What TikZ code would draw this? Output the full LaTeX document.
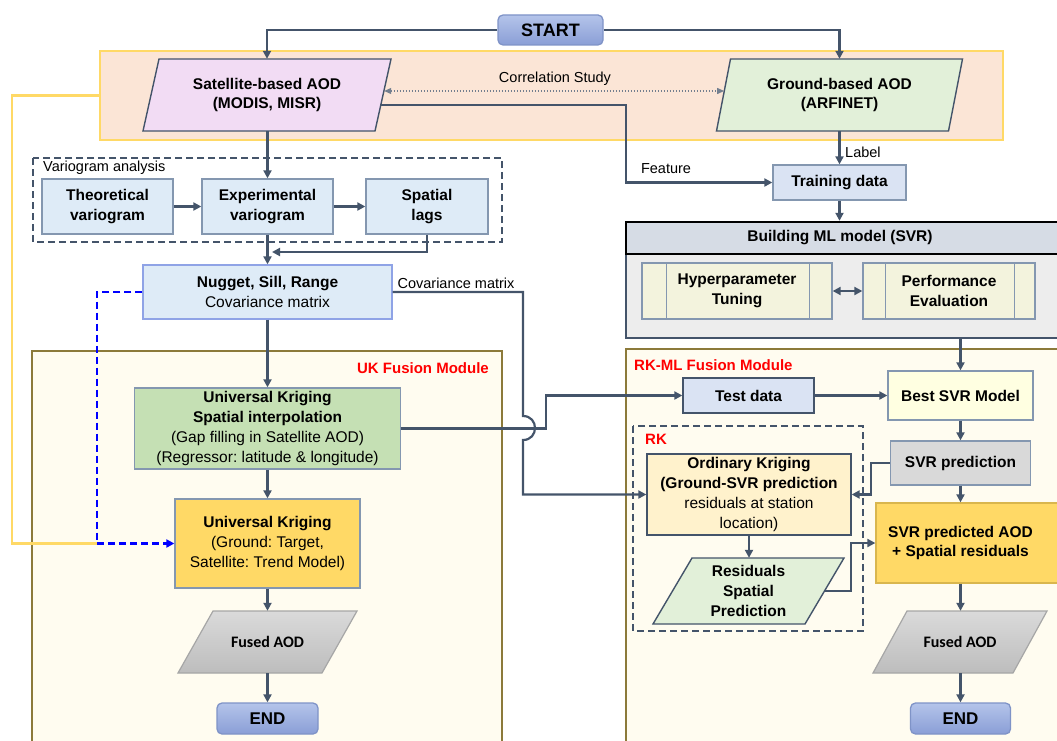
\documentclass[tikz,border=0pt]{standalone}
\usepackage{fontspec}
\setmainfont{Liberation Sans}
\newfontfamily\calibfont{Carlito}
\usetikzlibrary{arrows.meta,calc}
\definecolor{slate}{HTML}{44546A}
\definecolor{bandfill}{HTML}{FBE5D6}
\definecolor{bandline}{HTML}{FFD966}
\definecolor{satfill}{HTML}{F2DCF4}
\definecolor{gndfill}{HTML}{E2F0D9}
\definecolor{ltblue}{HTML}{DEEBF7}
\definecolor{ltbluetwo}{HTML}{DAE3F3}
\definecolor{boxline}{HTML}{8497B0}
\definecolor{nugline}{HTML}{8FA3E6}
\definecolor{ukgreen}{HTML}{C5E0B4}
\definecolor{ukgold}{HTML}{FFD966}
\definecolor{goldline}{HTML}{D9B64E}
\definecolor{modfill}{HTML}{FFFCF0}
\definecolor{modline}{HTML}{8C7A3A}
\definecolor{headfill}{HTML}{D6DCE5}
\definecolor{bodyfill}{HTML}{EDEDED}
\definecolor{procfill}{HTML}{F3F3DD}
\definecolor{bestfill}{HTML}{FFFFE1}
\definecolor{greyfill}{HTML}{D9D9D9}
\definecolor{okfill}{HTML}{FFF2CC}
\definecolor{termtop}{HTML}{B4C4EA}
\definecolor{termbot}{HTML}{8A9ED6}
\definecolor{termline}{HTML}{7F93C7}
\definecolor{fusedtop}{HTML}{DADADA}
\definecolor{fusedbot}{HTML}{BDBDBD}
\definecolor{fusedline}{HTML}{A6A6A6}
\definecolor{dashblue}{HTML}{0000FF}
\newcommand\myfs{\fontsize{15.5}{19.8}\selectfont}
\newcommand\mysm{\fontsize{14.5}{18}\selectfont}
% parallelogram: #1 style, #2 cx, #3 cy, #4 half mid-width, #5 half height, #6 half slant
\newcommand\paradraw[6]{\path[#1] ({#2-#4-#6},{#3+#5}) -- ({#2+#4-#6},{#3+#5}) -- ({#2+#4+#6},{#3-#5}) -- ({#2-#4+#6},{#3-#5}) -- cycle;}
\frenchspacing
\begin{document}
\begin{tikzpicture}[x=1pt,y=-1pt,
  txt/.style={font=\myfs, align=center, inner sep=0pt},
  box/.style={draw=#1, line width=1.3pt, align=center, inner sep=0pt, font=\myfs},
  paratext/.style={align=center, inner sep=0pt, font=\myfs\bfseries},
  parashape/.style={draw=slate, line width=1.4pt},
  fusedshape/.style={draw=fusedline, line width=1.2pt, top color=fusedtop, bottom color=fusedbot},
  term/.style={rounded corners=5pt, draw=termline, line width=1.3pt, top color=termtop, bottom color=termbot, inner sep=0pt, font=\fontsize{17}{20}\selectfont\bfseries},
  conn/.style={draw=slate, line width=2.2pt},
  arr/.style={conn, -{Triangle[length=8pt,width=8pt]}},
  dblarr/.style={conn, {Triangle[length=8pt,width=8pt]}-{Triangle[length=8pt,width=8pt]}},
  corr/.style={draw=slate!75, line width=1.1pt, dash pattern=on 1.5pt off 1.5pt, {Triangle[length=7pt,width=6pt]}-{Triangle[length=7pt,width=6pt]}},
  lab/.style={font=\mysm, inner sep=0pt},
  modbox/.style={draw=modline, fill=modfill, line width=1.5pt},
  grp/.style={draw=slate, line width=1.7pt, dash pattern=on 7pt off 4pt},
  redlab/.style={font=\fontsize{15}{18}\selectfont\bfseries, text=red, inner sep=0pt},
  procline/.style={draw=boxline, line width=1.3pt}
]
\useasboundingbox (0,0) rectangle (1057,741);

% background groups
\node[draw=bandline, fill=bandfill, line width=2.2pt, minimum width=903, minimum height=89, inner sep=0pt] (band) at (551.5,95.5) {};
\draw[modbox] (32,351) rectangle (502,770);
\draw[modbox] (626,349) rectangle (1080,770);
\draw[grp] (33,158) rectangle (502,242);
\draw[grp] (633,426) rectangle (863,631);
\node[draw=slate, fill=bodyfill, line width=2.2pt, minimum width=454, minimum height=84, inner sep=0pt] (bbody) at (853,296) {};
\node[draw=black, fill=headfill, line width=2.4pt, minimum width=454, minimum height=32, inner sep=0pt] (bhead) at (853,238) {};
\node[txt, font=\myfs\bfseries] (bheadt) at (840,238) {Building ML model (SVR)};

% group labels
\node[lab, anchor=west] (vlab) at (43,168) {Variogram analysis};
\node[redlab, anchor=east] (uklab) at (489,368) {UK Fusion Module};
\node[redlab, anchor=west] (rkmllab) at (634,365) {RK-ML Fusion Module};
\node[redlab, anchor=west] (rklab) at (645,439) {RK};

% top
\node[term, minimum width=105, minimum height=30, font=\fontsize{18}{20}\selectfont\bfseries] (start) at (550.5,30) {START};
\paradraw{parashape, fill=satfill}{267}{95}{116}{36}{8}
\node[paratext, minimum width=232, minimum height=72] (sat) at (267,95) {Satellite-based AOD\\(MODIS, MISR)};
\paradraw{parashape, fill=gndfill}{839.5}{95}{116}{36}{7}
\node[paratext, minimum width=232, minimum height=72] (gnd) at (839.5,95) {Ground-based AOD\\(ARFINET)};

% variogram
\node[box=boxline, fill=ltblue, minimum width=131, minimum height=55, font=\myfs\bfseries] (theo) at (107.5,206.5) {Theoretical\\variogram};
\node[box=boxline, fill=ltblue, minimum width=131, minimum height=55, font=\myfs\bfseries] (expv) at (267.5,206.5) {Experimental\\variogram};
\node[box=boxline, fill=ltblue, minimum width=122, minimum height=55, font=\myfs\bfseries] (lags) at (427,206.5) {Spatial\\lags};
\node[box=nugline, fill=ltblue, minimum width=249, minimum height=54] (nugget) at (267.5,292) {\textbf{Nugget, Sill, Range}\\Covariance matrix};

% UK module
\node[box=boxline, fill=ukgreen, minimum width=266, minimum height=81] (ukSI) at (267.5,428.5) {\textbf{Universal Kriging}\\\textbf{Spatial interpolation}\\(Gap filling in Satellite AOD)\\(Regressor: latitude \& longitude)};
\node[box=boxline, fill=ukgold, minimum width=185, minimum height=89] (uk2) at (267.5,543.5) {\textbf{Universal Kriging}\\(Ground: Target,\\Satellite: Trend Model)};
\paradraw{fusedshape}{267.5}{642}{72}{31}{17.5}
\node[paratext, minimum width=144, minimum height=62, font=\calibfont\fontsize{16}{19}\selectfont\bfseries] (fused1) at (267.5,642) {Fused AOD};
\node[term, minimum width=101, minimum height=31] (end1) at (267.5,718.5) {END};

% ML side
\node[box=boxline, fill=ltbluetwo, minimum width=133, minimum height=35, font=\myfs\bfseries] (train) at (839.5,182.5) {Training data};
\node[box=boxline, fill=procfill, minimum width=190, minimum height=56, font=\myfs\bfseries] (hyp) at (737,291) {Hyperparameter\\Tuning};
\node[box=boxline, fill=procfill, minimum width=172, minimum height=56, font=\myfs\bfseries] (perf) at (949,291) {Performance\\Evaluation};
\draw[procline] ($(hyp.north west)+(25,0)$) -- ($(hyp.south west)+(25,0)$);
\draw[procline] ($(hyp.north east)+(-23,0)$) -- ($(hyp.south east)+(-23,0)$);
\draw[procline] ($(perf.north west)+(23,0)$) -- ($(perf.south west)+(23,0)$);
\draw[procline] ($(perf.north east)+(-21,0)$) -- ($(perf.south east)+(-21,0)$);

% RK-ML module
\node[box=slate, fill=ltbluetwo, minimum width=131, minimum height=35, font=\myfs\bfseries] (test) at (748.5,395.5) {Test data};
\node[box=boxline, fill=bestfill, minimum width=145, minimum height=49, font=\myfs\bfseries] (best) at (960.5,395.5) {Best SVR Model};
\node[box=boxline, fill=greyfill, minimum width=140, minimum height=44, font=\myfs\bfseries] (svrp) at (960.5,463) {SVR prediction};
\node[box=goldline, fill=ukgold, minimum width=209, minimum height=80] (svrA) at (980.5,543) {};
\node[txt, font=\myfs\bfseries] (svrAt) at (960.5,543) {SVR predicted AOD\\+ Spatial residuals};
\node[box=slate, fill=okfill, minimum width=204, minimum height=81] (ok) at (749,494.5) {\textbf{Ordinary Kriging}\\\textbf{(Ground-SVR prediction}\\residuals at station\\location)};
\paradraw{parashape, fill=gndfill}{748.5}{591}{76}{33}{19.5}
\node[paratext, minimum width=152, minimum height=66] (resid) at (748.5,591) {Residuals\\Spatial\\Prediction};
\paradraw{fusedshape}{960}{642}{70}{31}{17}
\node[paratext, minimum width=140, minimum height=62, font=\calibfont\fontsize{16}{19}\selectfont\bfseries] (fused2) at (960,642) {Fused AOD};
\node[term, minimum width=100, minimum height=31] (end2) at (960.5,718.5) {END};

% helper coordinates
\coordinate (fk) at (626,182.5);
\coordinate (lj) at (272,252);
\coordinate (bj) at (97,543.5);
\coordinate (yc) at (12,543.5);
\coordinate (tj) at (546,395.5);
\coordinate (sj) at (871,494.5);
\coordinate (rj) at (851,543);
\coordinate (c1) at (523,292);
\coordinate (c2) at (523,416);
\coordinate (c3) at (523,440);
\coordinate (c4) at (523,494.5);

% connectors top
\draw[arr] (start.west) -| (sat.north);
\draw[arr] (start.east) -| (gnd.north);
\draw[corr] ($(sat.east)+(1,-4)$) -- ($(gnd.west)+(0.8,-4)$);
\node[lab] (corrl) at (555,79) {Correlation Study};
\draw[arr] ($(sat.east)+(-2.5,10)$) -| (fk) -- (train.west);
\node[lab] (featl) at (666,169) {Feature};
\draw[arr] (gnd.south) -- (train.north);
\node[lab, anchor=west] (labl) at (845,152) {Label};
\draw[arr] (train.south) -- (train.south |- bhead.north);
\draw[dblarr] (hyp.east) -- (perf.west);
\draw[arr] (best.north |- bbody.south) -- (best.north);

% left column
\draw[arr] (expv.north |- sat.south) -- (expv.north);
\draw[arr] (theo.east) -- (expv.west);
\draw[arr] (expv.east) -- (lags.west);
\draw[arr] (expv.south) -- (nugget.north);
\draw[arr] (lags.south) |- (lj);
\draw[arr] (nugget.south) -- (ukSI.north);
\draw[arr] (ukSI.south) -- (uk2.north);
\draw[arr] (uk2.south) -- (fused1.north);
\draw[arr] (fused1.south) -- (end1.north);

% yellow and blue feeds
\draw[draw=bandline, line width=2.8pt] (band.west) -| (yc) -- (bj);
\draw[draw=dashblue, line width=2.2pt, dash pattern=on 7pt off 4pt, -{Triangle[length=8pt,width=8pt]}] (nugget.west) -| (bj) -- (uk2.west);

% covariance line with hop
\node[lab] (covl) at (456,283) {Covariance matrix};
\draw[arr] (nugget.east) -- (c1) -- (c2) .. controls (539,416) and (539,440) .. (c3) -- (c4) -- (ok.west);
\draw[arr] (ukSI.east) -| (tj) -- (test.west);

% right column
\draw[arr] (test.east) -- (best.west);
\draw[arr] (best.south) -- (svrp.north);
\draw[arr] (svrp.south) -- (svrp.south |- svrA.north);
\draw[arr] (svrp.south |- svrA.south) -- (svrp.south |- fused2.north);
\draw[arr] (svrp.south |- fused2.south) -- (end2.north);
\draw[arr] (svrp.west) -| (sj) -- (ok.east);
\draw[arr] (ok.south) -- (ok.south |- resid.north);
\draw[arr] (resid.east) -| (rj) -- (svrA.west);
\end{tikzpicture}
\end{document}
